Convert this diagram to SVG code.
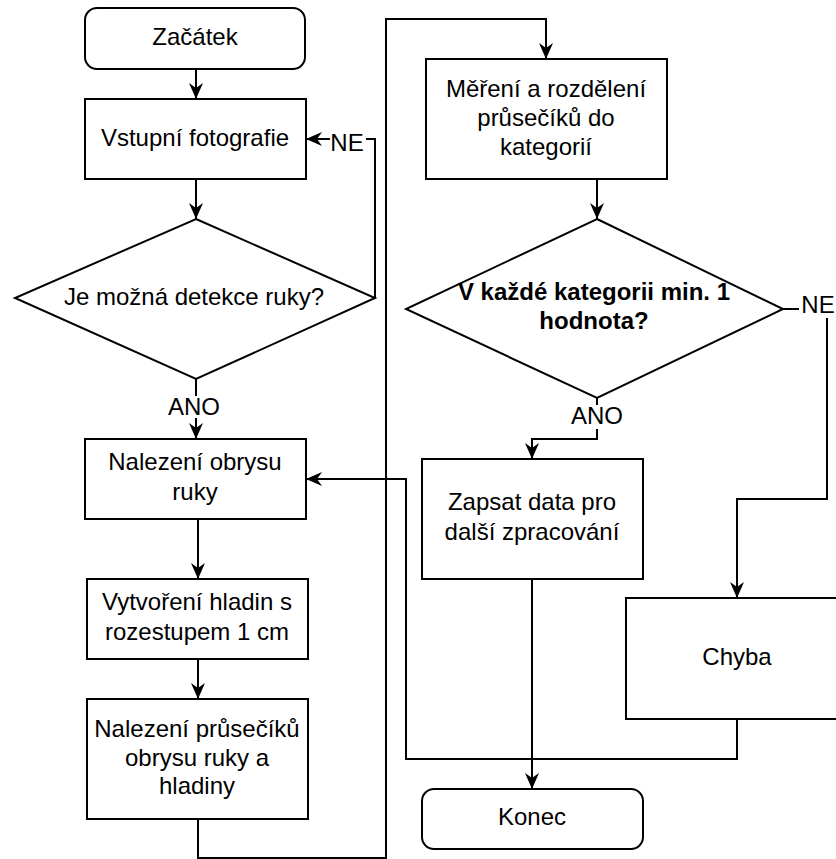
<svg xmlns="http://www.w3.org/2000/svg" width="836" height="859" viewBox="0 0 836 859">
<style>
.box{fill:#fff;stroke:#000;stroke-width:2}
.t{font-family:"Liberation Sans",Arial,sans-serif;font-size:24px;fill:#000;text-anchor:middle}
.b{font-weight:bold}
.c{fill:none;stroke:#000;stroke-width:2}
.lbg{fill:#fff;stroke:none}
</style>
<defs>
<marker id="arr" markerUnits="userSpaceOnUse" viewBox="-17 -8 18 16" refX="0" refY="0" markerWidth="18" markerHeight="16" orient="auto">
<path d="M0,0 L-16,-7 L-11,0 L-16,7 Z" fill="#000"/>
</marker>
</defs>
<rect width="836" height="859" fill="#fff"/>
<g id="connectors">
<path class="c" d="M196,69 V99" marker-end="url(#arr)"/>
<path class="c" d="M196,179 V219" marker-end="url(#arr)"/>
<path class="c" d="M375,298 V139 H306" marker-end="url(#arr)"/>
<path class="c" d="M196,379 V439" marker-end="url(#arr)"/>
<path class="c" d="M198,519 V579" marker-end="url(#arr)"/>
<path class="c" d="M198,659 V699" marker-end="url(#arr)"/>
<path class="c" d="M198,819 V858 H386 V19 H546 V59" marker-end="url(#arr)"/>
<path class="c" d="M597,179 V219" marker-end="url(#arr)"/>
<path class="c" d="M597,398 V439 H532 V459" marker-end="url(#arr)"/>
<path class="c" d="M783,309 H827 V499 H737 V598" marker-end="url(#arr)"/>
<path class="c" d="M532,579 V789" marker-end="url(#arr)"/>
<path class="c" d="M737,719 V759 H406 V479 H306" marker-end="url(#arr)"/>
<g id="labels">
<rect class="lbg" x="330" y="132" width="36" height="24"/>
<text class="t" x="347" y="151">NE</text>
<rect class="lbg" x="172" y="396" width="44" height="22"/>
<text class="t" x="194" y="415">ANO</text>
<rect class="lbg" x="799" y="294" width="37" height="24"/>
<text class="t" x="818" y="313">NE</text>
<rect class="lbg" x="573" y="405" width="50" height="24"/>
<text class="t" x="597" y="424">ANO</text>
</g>
</g>
<g id="start">
<rect class="box" x="85" y="8" width="220" height="61" rx="12"/>
<text class="t" x="195" y="45">Začátek</text>
</g>
<g id="input">
<rect class="box" x="85" y="99" width="221" height="80"/>
<text class="t" x="195" y="146">Vstupní fotografie</text>
</g>
<g id="decision1">
<polygon class="box" points="196,219 375,298 196,379 15,298"/>
<text class="t" x="194" y="305">Je možná detekce ruky?</text>
</g>
<g id="contour">
<rect class="box" x="85" y="439" width="221" height="80"/>
<text class="t" x="195" y="470">Nalezení obrysu</text>
<text class="t" x="195" y="500">ruky</text>
</g>
<g id="layers">
<rect class="box" x="87" y="579" width="221" height="80"/>
<text class="t" x="197" y="610">Vytvoření hladin s</text>
<text class="t" x="197" y="640">rozestupem 1 cm</text>
</g>
<g id="intersections">
<rect class="box" x="87" y="699" width="221" height="120"/>
<text class="t" x="197" y="737">Nalezení průsečíků</text>
<text class="t" x="197" y="766">obrysu ruky a</text>
<text class="t" x="197" y="794">hladiny</text>
</g>
<g id="measure">
<rect class="box" x="426" y="59" width="241" height="120"/>
<text class="t" x="546" y="97">Měření a rozdělení</text>
<text class="t" x="546" y="126">průsečíků do</text>
<text class="t" x="546" y="155">kategorií</text>
</g>
<g id="decision2">
<polygon class="box" points="597,219 783,309 597,398 406,309"/>
<text class="t b" x="594" y="300">V každé kategorii min. 1</text>
<text class="t b" x="594" y="329">hodnota?</text>
</g>
<g id="write">
<rect class="box" x="422" y="459" width="221" height="120"/>
<text class="t" x="532" y="510">Zapsat data pro</text>
<text class="t" x="532" y="540">další zpracování</text>
</g>
<g id="error">
<rect class="box" x="626" y="598" width="222" height="121"/>
<text class="t" x="737" y="665">Chyba</text>
</g>
<g id="end">
<rect class="box" x="422" y="789" width="221" height="60" rx="12"/>
<text class="t" x="532" y="825">Konec</text>
</g>
</svg>
